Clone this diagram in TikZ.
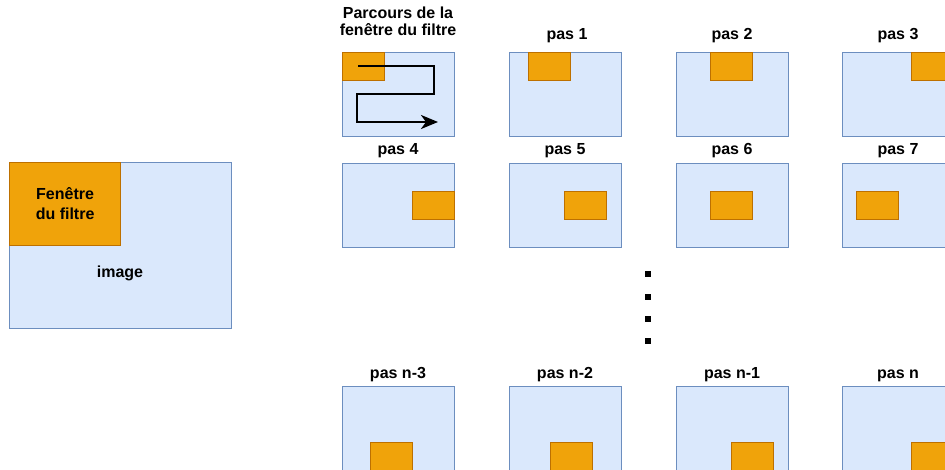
\documentclass[tikz,border=0pt]{standalone}
\usepackage{fontspec}
\setmainfont{Liberation Sans}
\usetikzlibrary{arrows.meta,positioning}
\definecolor{imgfill}{HTML}{DAE8FC}
\definecolor{imgline}{HTML}{6C8EBF}
\definecolor{winfill}{HTML}{F0A30A}
\definecolor{winline}{HTML}{BD7000}

\begin{document}
\begin{tikzpicture}[
  x=1pt, y=-1pt,
  imgbox/.style={draw=imgline, fill=imgfill, line width=1.2pt, inner sep=0pt, anchor=north west, minimum width=112pt, minimum height=84pt},
  winbox/.style={draw=winline, fill=winfill, line width=1.2pt, inner sep=0pt, anchor=north west, minimum width=42pt, minimum height=28pt},
  steplabel/.style={anchor=base, inner sep=0pt, font=\fontsize{16}{17}\selectfont\bfseries},
  dotmark/.style={fill=black, inner sep=0pt, minimum size=5.5pt},
  path/.style={-{Stealth[length=17pt,width=14pt,inset=5pt]}, draw=black, line width=2.5pt}
]
\useasboundingbox (0,0) rectangle (945,470);
\clip (0,0) rectangle (945,470);

% the whole picture and its window
\node[imgbox, minimum width=222pt, minimum height=166pt] (image) at (9,162) {};
\node[winbox, minimum width=111pt, minimum height=83pt, align=center, font=\fontsize{16}{20}\selectfont\bfseries] (bigwin) at (image.north west) {Fenêtre\\du filtre};
\node[steplabel] (imagelabel) at (120,278) {image};

% path of the window
\node[imgbox] (parcours) at (342,52) {};
\node[winbox] (win0) at (parcours.north west) {};
\node[anchor=north, inner sep=0pt, align=center, font=\fontsize{16}{17}\selectfont\bfseries] (title) at (398,7) {Parcours de la\\fenêtre du filtre};
\coordinate (pstart) at (358,66);
\coordinate (pend) at (438,122);
\draw[path] (pstart) -- ++(76,0) -- ++(0,28) -- ++(-77,0) -- ++(0,28) -- (pend);

% first row
\node[imgbox] (pas1) at (509,52) {};
\node[imgbox] (pas2) at (676,52) {};
\node[imgbox] (pas3) at (842,52) {};
\node[winbox] (win1) at ([shift={(19,0)}]pas1.north west) {};
\node[winbox] (win2) at ([shift={(34,0)}]pas2.north west) {};
\node[winbox] (win3) at ([shift={(69,0)}]pas3.north west) {};
\node[steplabel] at (567,40) {pas 1};
\node[steplabel] at (732,40) {pas 2};
\node[steplabel] at (898,40) {pas 3};

% second row
\node[imgbox] (pas4) at (342,163) {};
\node[imgbox] (pas5) at (509,163) {};
\node[imgbox] (pas6) at (676,163) {};
\node[imgbox] (pas7) at (842,163) {};
\node[winbox] (win4) at ([shift={(70,28)}]pas4.north west) {};
\node[winbox] (win5) at ([shift={(55,28)}]pas5.north west) {};
\node[winbox] (win6) at ([shift={(34,28)}]pas6.north west) {};
\node[winbox] (win7) at ([shift={(14,28)}]pas7.north west) {};
\node[steplabel] at (398,155) {pas 4};
\node[steplabel] at (565,155) {pas 5};
\node[steplabel] at (732,155) {pas 6};
\node[steplabel] at (898,155) {pas 7};

% dots
\node[dotmark] (dot1) at (648,274) {};
\node[dotmark] (dot2) at (648,297) {};
\node[dotmark] (dot3) at (648,319) {};
\node[dotmark] (dot4) at (648,341) {};

% last row
\node[imgbox] (pasn3) at (342,386) {};
\node[imgbox] (pasn2) at (509,386) {};
\node[imgbox] (pasn1) at (676,386) {};
\node[imgbox] (pasn) at (842,386) {};
\node[winbox] (winn3) at ([shift={(28,56)}]pasn3.north west) {};
\node[winbox] (winn2) at ([shift={(41,56)}]pasn2.north west) {};
\node[winbox] (winn1) at ([shift={(55,56)}]pasn1.north west) {};
\node[winbox] (winn) at ([shift={(69,56)}]pasn.north west) {};
\node[steplabel] at (398,378) {pas n-3};
\node[steplabel] at (565,378) {pas n-2};
\node[steplabel] at (732,378) {pas n-1};
\node[steplabel] at (898,378) {pas n};

\end{tikzpicture}
\end{document}
